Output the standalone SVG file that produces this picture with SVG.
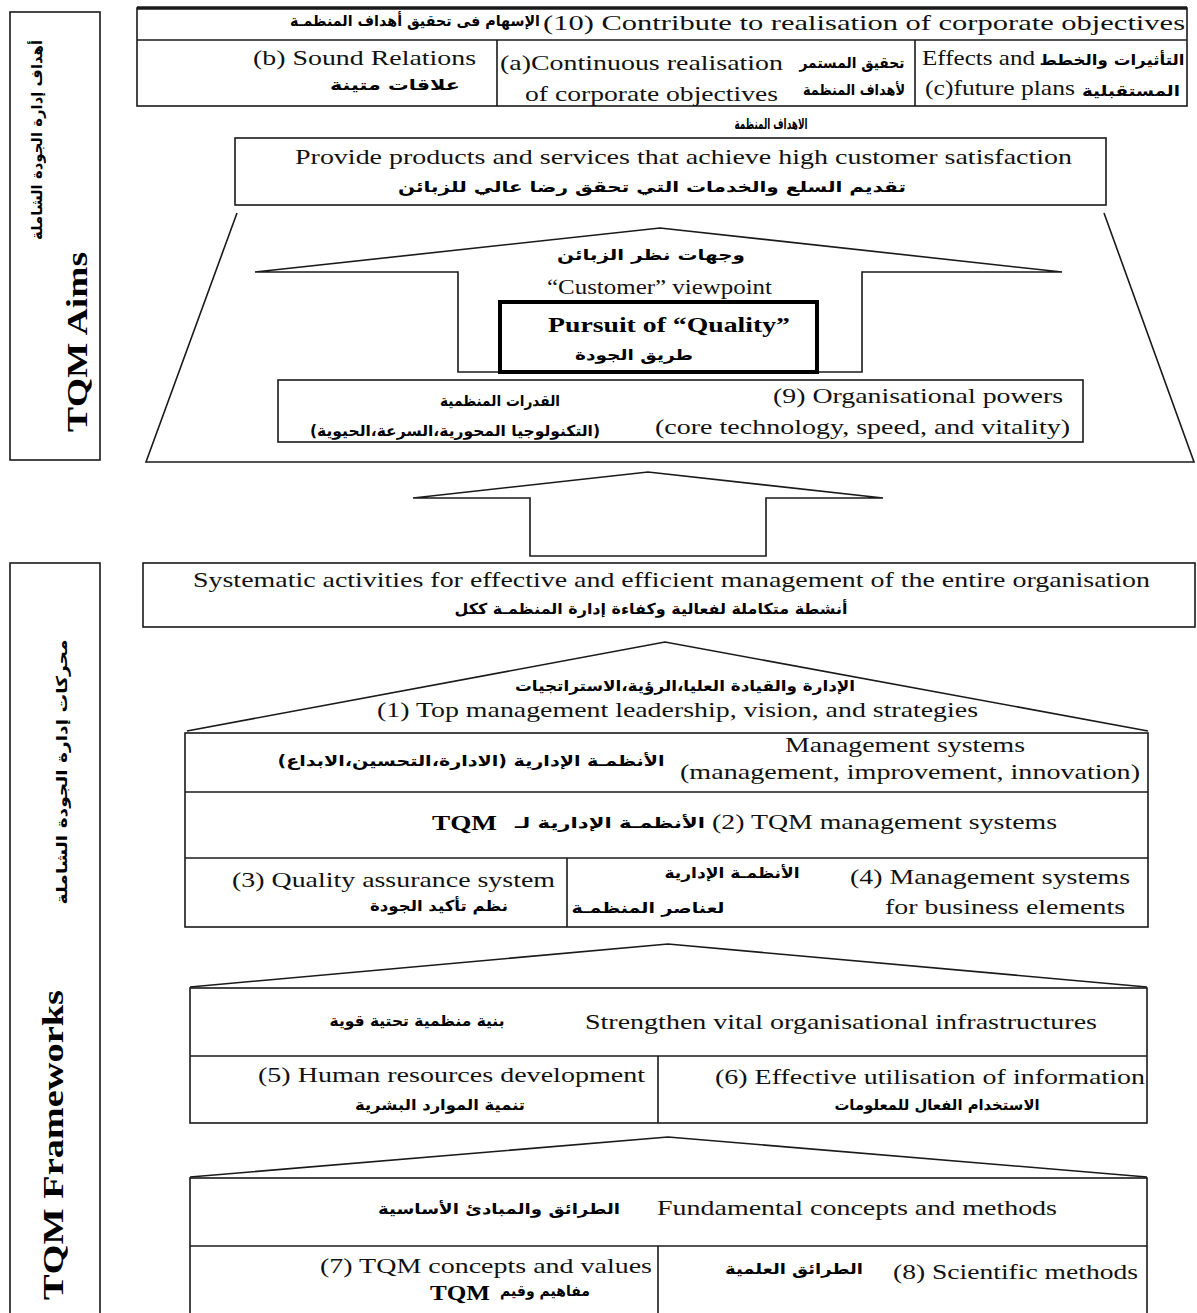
<svg xmlns="http://www.w3.org/2000/svg" width="1197" height="1313" viewBox="0 0 1197 1313">
<style>
.box{fill:none;stroke:#1a1a1a;stroke-width:1.6}
.ln{fill:none;stroke:#1a1a1a;stroke-width:1.6}
.en{font-family:"Liberation Serif","Times New Roman",serif;font-size:22px;fill:#111}
.enb{font-family:"Liberation Serif","Times New Roman",serif;font-size:22px;font-weight:bold;fill:#000}
.ar{font-family:"DejaVu Sans",sans-serif;font-weight:bold;font-size:15px;fill:#000;direction:rtl;text-anchor:middle}
.side{font-family:"Liberation Serif","Times New Roman",serif;font-size:30px;font-weight:bold;fill:#000;text-anchor:middle}
</style>
<rect width="1197" height="1313" fill="#fff"/>

<g id="label-aims">
<rect class="box" x="10" y="12" width="90" height="448"/>
<text class="ar" transform="translate(42,140) rotate(-90)" font-size="16" textLength="200" lengthAdjust="spacingAndGlyphs">أهداف إدارة الجودة الشاملة</text>
<text class="side" transform="translate(87,342) rotate(-90)" textLength="180" lengthAdjust="spacingAndGlyphs">TQM Aims</text>
</g>

<g id="label-frameworks">
<rect class="box" x="10" y="563" width="90" height="760"/>
<text class="ar" transform="translate(67,772) rotate(-90)" font-size="16" textLength="265" lengthAdjust="spacingAndGlyphs">محركات إدارة الجودة الشاملة</text>
<text class="side" transform="translate(63,1145) rotate(-90)" textLength="310" lengthAdjust="spacingAndGlyphs">TQM Frameworks</text>
</g>

<g id="objectives-table">
<rect class="box" x="137" y="8" width="1050" height="98"/>
<line x1="137" y1="8" x2="1187" y2="8" stroke="#1a1a1a" stroke-width="3.5"/>
<line class="ln" x1="137" y1="40" x2="1187" y2="40"/>
<line class="ln" x1="497" y1="40" x2="497" y2="106"/>
<line class="ln" x1="915" y1="40" x2="915" y2="106"/>
<text class="ar" x="415" y="26" textLength="250" lengthAdjust="spacingAndGlyphs">الإسهام فى تحقيق أهداف المنظمـة</text>
<text class="en" x="543" y="30" textLength="642" lengthAdjust="spacingAndGlyphs">(10) Contribute to realisation of corporate objectives</text>
<text class="en" x="253" y="65" textLength="223" lengthAdjust="spacingAndGlyphs">(b) Sound Relations</text>
<text class="ar" x="395" y="90" textLength="130" lengthAdjust="spacingAndGlyphs">علاقات  متينة</text>
<text class="en" x="500" y="70" textLength="283" lengthAdjust="spacingAndGlyphs">(a)Continuous realisation</text>
<text class="en" x="525" y="101" textLength="253" lengthAdjust="spacingAndGlyphs">of  corporate objectives</text>
<text class="ar" x="852" y="68" font-size="13" textLength="105" lengthAdjust="spacingAndGlyphs">تحقيق المستمر</text>
<text class="ar" x="854" y="95" font-size="13" textLength="102" lengthAdjust="spacingAndGlyphs">لأهداف المنظمة</text>
<text class="en" x="922" y="65" textLength="113" lengthAdjust="spacingAndGlyphs">Effects and</text>
<text class="ar" x="1112" y="65" font-size="14" textLength="145" lengthAdjust="spacingAndGlyphs">التأثيرات والخطط</text>
<text class="en" x="925" y="95" textLength="150" lengthAdjust="spacingAndGlyphs">(c)future plans</text>
<text class="ar" x="1131" y="96" font-size="14" textLength="98" lengthAdjust="spacingAndGlyphs">المستقبلية</text>
</g>

<g id="note-objectives">
<text class="ar" x="771" y="129" font-size="11" textLength="73" lengthAdjust="spacingAndGlyphs">الاهداف المنظمة</text>
</g>

<g id="customer-satisfaction">
<rect class="box" x="235" y="138" width="871" height="67"/>
<text class="en" x="295" y="164" textLength="777" lengthAdjust="spacingAndGlyphs">Provide products and services that achieve high customer satisfaction</text>
<text class="ar" x="652" y="192" textLength="508" lengthAdjust="spacingAndGlyphs">تقديم السلع والخدمات التي تحقق رضا عالي للزبائن</text>
</g>

<g id="aims-frame">
<polyline class="ln" points="237,213 146,462 1194,462 1104,213"/>
</g>

<g id="connectors">
<path class="ln" d="M458,372 L458,272 L255,272 L660,228 L1062,272 L862,272 L862,372 Z"/>
<path class="ln" d="M530,556 L530,498 L413,498 L648,472 L883,498 L766,498 L766,556 Z"/>
</g>

<g id="customer-viewpoint">
<text class="ar" x="651" y="260" font-size="18" textLength="188" lengthAdjust="spacingAndGlyphs">وجهات نظر الزبائن</text>
<text class="en" x="547" y="294" textLength="225" lengthAdjust="spacingAndGlyphs">“Customer” viewpoint</text>
</g>

<g id="pursuit-quality">
<rect x="500" y="302" width="317" height="70" fill="#fff" stroke="#000" stroke-width="4"/>
<text class="enb" x="548" y="332" textLength="242" lengthAdjust="spacingAndGlyphs">Pursuit of “Quality”</text>
<text class="ar" x="634" y="360" font-size="17" textLength="118" lengthAdjust="spacingAndGlyphs">طريق الجودة</text>
</g>

<g id="organisational-powers">
<rect class="box" x="278" y="380" width="805" height="62"/>
<text class="en" x="773" y="403" textLength="290" lengthAdjust="spacingAndGlyphs">(9) Organisational powers</text>
<text class="en" x="655" y="434" textLength="415" lengthAdjust="spacingAndGlyphs">(core technology, speed, and vitality)</text>
<text class="ar" x="500" y="406" textLength="120" lengthAdjust="spacingAndGlyphs">القدرات المنظمية</text>
<text class="ar" x="455" y="436" textLength="290" lengthAdjust="spacingAndGlyphs">(التكنولوجيا المحورية،السرعة،الحيوية)</text>
</g>

<g id="systematic-activities">
<rect class="box" x="143" y="563" width="1052" height="64"/>
<text class="en" x="193" y="587" textLength="957" lengthAdjust="spacingAndGlyphs">Systematic activities for effective and efficient management of the entire organisation</text>
<text class="ar" x="651" y="614" textLength="393" lengthAdjust="spacingAndGlyphs">أنشطة متكاملة لفعالية وكفاءة إدارة المنظمـة ككل</text>
</g>

<g id="top-management">
<polyline class="ln" points="187,731 665,642 1148,731"/>
<text class="ar" x="685" y="691" textLength="340" lengthAdjust="spacingAndGlyphs">الإدارة والقيادة العليا،الرؤية،الاستراتجيات</text>
<text class="en" x="377" y="717" textLength="601" lengthAdjust="spacingAndGlyphs">(1) Top management leadership, vision, and strategies</text>
</g>

<g id="management-systems">
<rect class="box" x="185" y="733" width="963" height="194"/>
<line class="ln" x1="185" y1="792" x2="1148" y2="792"/>
<line class="ln" x1="185" y1="858" x2="1148" y2="858"/>
<line class="ln" x1="567" y1="858" x2="567" y2="927"/>
<text class="en" x="785" y="752" textLength="240" lengthAdjust="spacingAndGlyphs">Management systems</text>
<text class="en" x="680" y="779" textLength="460" lengthAdjust="spacingAndGlyphs">(management, improvement, innovation)</text>
<text class="ar" x="471" y="766" textLength="387" lengthAdjust="spacingAndGlyphs">الأنظمـة الإدارية  (الادارة،التحسين،الابداع)</text>
<text class="en" x="712" y="829" textLength="345" lengthAdjust="spacingAndGlyphs">(2) TQM management systems</text>
<text class="ar" x="610" y="828" textLength="190" lengthAdjust="spacingAndGlyphs">الأنظمـة الإدارية  لـ</text>
<text class="enb" x="432" y="830" textLength="65" lengthAdjust="spacingAndGlyphs">TQM</text>
<text class="en" x="232" y="887" textLength="323" lengthAdjust="spacingAndGlyphs">(3) Quality assurance system</text>
<text class="ar" x="439" y="911" textLength="138" lengthAdjust="spacingAndGlyphs">نظم تأكيد الجودة</text>
<text class="en" x="850" y="884" textLength="280" lengthAdjust="spacingAndGlyphs">(4) Management systems</text>
<text class="en" x="885" y="914" textLength="240" lengthAdjust="spacingAndGlyphs">for business elements</text>
<text class="ar" x="732" y="878" textLength="135" lengthAdjust="spacingAndGlyphs">الأنظمـة الإدارية</text>
<text class="ar" x="648" y="913" textLength="153" lengthAdjust="spacingAndGlyphs">لعناصر  المنظمـة</text>
</g>

<g id="infrastructures">
<polyline class="ln" points="190,987 668,944 1147,987"/>
<rect class="box" x="190" y="988" width="957" height="135"/>
<line class="ln" x1="190" y1="1056" x2="1147" y2="1056"/>
<line class="ln" x1="658" y1="1056" x2="658" y2="1123"/>
<text class="en" x="585" y="1029" textLength="512" lengthAdjust="spacingAndGlyphs">Strengthen vital organisational infrastructures</text>
<text class="ar" x="417" y="1026" textLength="175" lengthAdjust="spacingAndGlyphs">بنية منظمية تحتية قوية</text>
<text class="en" x="258" y="1082" textLength="387" lengthAdjust="spacingAndGlyphs">(5) Human resources development</text>
<text class="ar" x="440" y="1110" textLength="170" lengthAdjust="spacingAndGlyphs">تنمية الموارد البشرية</text>
<text class="en" x="715" y="1084" textLength="430" lengthAdjust="spacingAndGlyphs">(6) Effective utilisation of information</text>
<text class="ar" x="937" y="1110" textLength="205" lengthAdjust="spacingAndGlyphs">الاستخدام الفعال للمعلومات</text>
</g>

<g id="fundamentals">
<polyline class="ln" points="190,1177 668,1137 1147,1177"/>
<rect class="box" x="190" y="1178" width="957" height="145"/>
<line class="ln" x1="190" y1="1246" x2="1147" y2="1246"/>
<line class="ln" x1="658" y1="1246" x2="658" y2="1313"/>
<text class="en" x="657" y="1215" textLength="400" lengthAdjust="spacingAndGlyphs">Fundamental concepts and methods</text>
<text class="ar" x="499" y="1214" textLength="242" lengthAdjust="spacingAndGlyphs">الطرائق والمبادئ الأساسية</text>
<text class="en" x="320" y="1273" textLength="332" lengthAdjust="spacingAndGlyphs">(7) TQM concepts and values</text>
<text class="ar" x="545" y="1296" textLength="90" lengthAdjust="spacingAndGlyphs">مفاهيم وقيم</text>
<text class="enb" x="430" y="1300" textLength="60" lengthAdjust="spacingAndGlyphs">TQM</text>
<text class="en" x="893" y="1279" textLength="245" lengthAdjust="spacingAndGlyphs">(8) Scientific methods</text>
<text class="ar" x="794" y="1274" textLength="138" lengthAdjust="spacingAndGlyphs">الطرائق العلمية</text>
</g>
</svg>
